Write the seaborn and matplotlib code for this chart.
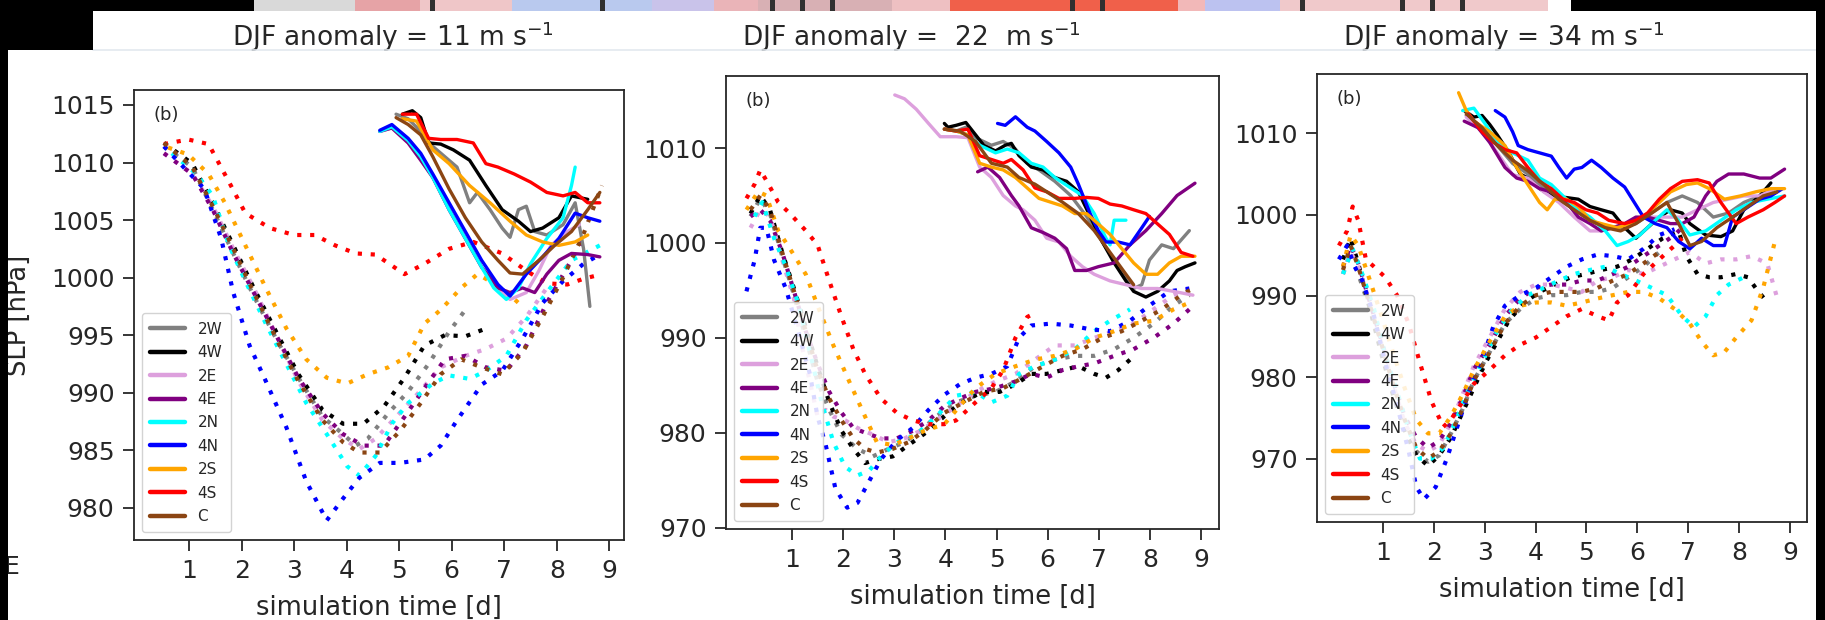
import matplotlib
matplotlib.use("Agg")
import matplotlib.pyplot as plt
from matplotlib.patches import Rectangle
from matplotlib.lines import Line2D
import pandas as pd
import seaborn as sns

# ---------------- data ----------------
experiments = ["2W", "4W", "2E", "4E", "2N", "4N", "2S", "4S", "C"]
exp_colors = ["gray", "black", "plum", "purple", "cyan", "blue", "orange", "red", "saddlebrown"]
panel_titles = ["DJF anomaly = 11 m s$^{-1}$",
                "DJF anomaly =  22  m s$^{-1}$",
                "DJF anomaly = 34 m s$^{-1}$"]
panel_tag = "(b)"
x_ticks = [1, 2, 3, 4, 5, 6, 7, 8, 9]
y_ticks_p1 = [980, 985, 990, 995, 1000, 1005, 1010, 1015]
y_ticks_p2 = [970, 980, 990, 1000, 1010]
y_ticks_p3 = [970, 980, 990, 1000, 1010]
x_label = "simulation time [d]"
y_label = "SLP [hPa]"

# panel 1 (11 m/s): dotted = first cyclone, solid = second cyclone; (day, hPa)
p1_dotted = {
    "2W": [(0.52,1011.4),(1.06,1009.6),(1.45,1005.9),(1.84,1002.1),(2.23,998.4),(2.69,994.4),(3.08,991.3),(3.54,987.9),(3.93,986.4),(4.17,985.4),(4.40,986.0),(4.79,988.2),(5.17,990.1),(5.56,992.5),(5.95,995.3),(6.26,997.2)],
    "4W": [(0.52,1011.7),(1.06,1009.9),(1.45,1006.5),(1.84,1002.8),(2.23,999.1),(2.69,995.0),(3.08,991.6),(3.54,988.5),(3.93,987.3),(4.32,987.3),(4.71,988.8),(5.10,991.3),(5.48,994.1),(5.87,995.0),(6.26,994.9),(6.61,995.5)],
    "2E": [(0.52,1010.8),(1.06,1009.0),(1.45,1006.2),(1.84,1002.5),(2.23,999.1),(2.69,994.7),(3.08,991.0),(3.54,987.6),(3.93,986.0),(4.24,985.1),(4.55,986.0),(4.94,987.9),(5.33,989.8),(5.79,992.2),(6.26,993.2),(6.65,993.8),(7.04,994.7),(7.42,996.6),(7.81,999.1)],
    "4E": [(0.52,1010.8),(1.06,1009.0),(1.45,1005.9),(1.84,1002.1),(2.23,998.7),(2.69,994.7),(3.08,991.3),(3.54,988.2),(3.93,986.4),(4.32,985.4),(4.71,985.4),(5.10,987.9),(5.48,990.4),(5.87,992.9),(6.26,993.2),(6.65,992.2),(7.04,991.9),(7.42,994.1),(7.81,997.8),(8.20,1000.9),(8.51,1003.4)],
    "2N": [(0.67,1010.8),(1.14,1009.0),(1.45,1007.1),(1.76,1002.8),(2.07,999.7),(2.46,996.0),(2.85,992.5),(3.23,989.1),(3.62,986.4),(4.01,983.6),(4.24,982.8),(4.55,984.5),(4.86,987.3),(5.17,989.1),(5.64,990.8),(5.95,991.5),(6.34,991.2),(6.65,991.9),(7.04,993.2),(7.42,996.3),(7.81,998.7),(8.28,1001.5),(8.82,1002.8)],
    "4N": [(0.52,1011.4),(0.83,1009.9),(1.29,1007.7),(1.61,1003.4),(1.84,998.7),(2.15,994.1),(2.46,991.0),(2.85,987.0),(3.23,982.3),(3.62,978.9),(3.93,980.8),(4.24,982.6),(4.63,983.9),(5.02,983.9),(5.48,984.2),(5.79,985.4),(6.10,987.6),(6.57,990.7),(6.96,991.9),(7.35,994.7),(7.73,997.8),(8.12,999.7),(8.51,1001.2),(8.82,1002.0)],
    "2S": [(0.60,1011.3),(0.98,1010.7),(1.37,1009.0),(1.68,1006.5),(2.07,1002.8),(2.46,999.1),(2.85,995.6),(3.23,992.9),(3.62,991.3),(4.01,990.8),(4.40,991.6),(4.79,992.2),(5.17,993.2),(5.48,996.0),(5.79,997.2),(6.18,999.1),(6.49,1000.3),(6.96,999.1),(7.27,997.8)],
    "4S": [(0.52,1011.6),(0.98,1012.0),(1.37,1011.6),(1.76,1008.3),(2.07,1005.6),(2.54,1004.3),(3.00,1003.7),(3.39,1003.7),(3.78,1002.8),(4.17,1002.1),(4.55,1002.0),(5.10,1000.3),(5.48,1001.2),(5.95,1002.5),(6.41,1003.1),(6.96,1002.1),(7.42,1000.6),(7.81,999.5),(8.20,999.4),(8.51,999.9),(8.86,1000.3)],
    "C":  [(0.52,1011.7),(1.06,1009.6),(1.45,1006.2),(1.84,1002.5),(2.23,998.7),(2.69,994.4),(3.08,991.0),(3.54,987.6),(3.93,985.7),(4.24,984.8),(4.63,984.8),(5.02,986.7),(5.41,989.1),(5.79,991.6),(6.18,992.9),(6.57,992.2),(6.96,991.6),(7.35,993.5),(7.73,996.6),(8.12,1000.0),(8.51,1003.8),(8.86,1008.0)],
}
p1_solid = {
    "2W": [(4.94,1014.2),(5.17,1013.8),(5.41,1012.7),(5.64,1011.4),(5.87,1010.5),(6.10,1009.6),(6.34,1006.5),(6.49,1007.4),(6.73,1005.9),(6.96,1004.3),(7.11,1003.5),(7.27,1005.9),(7.42,1006.2),(7.58,1004.0),(7.81,1003.7),(8.12,1004.6),(8.35,1006.5),(8.51,1002.5),(8.63,997.5)],
    "4W": [(5.06,1014.2),(5.25,1014.5),(5.41,1013.9),(5.56,1011.7),(5.79,1011.6),(6.03,1011.1),(6.34,1010.2),(6.65,1008.0),(6.96,1005.9),(7.27,1004.9),(7.50,1004.0),(7.73,1004.3),(8.04,1005.2),(8.28,1007.1),(8.59,1006.8)],
    "2E": [(4.63,1012.7),(4.86,1013.0),(5.17,1011.7),(5.41,1010.2),(5.64,1008.7),(5.95,1005.9),(6.26,1003.4),(6.57,1000.9),(6.88,999.1),(7.11,998.1),(7.42,998.7),(7.66,1000.6),(7.89,1002.8),(8.20,1004.0),(8.43,1004.6)],
    "4E": [(4.63,1012.7),(4.86,1013.0),(5.17,1011.7),(5.41,1010.2),(5.64,1008.7),(5.95,1005.9),(6.26,1003.4),(6.57,1000.9),(6.88,999.1),(7.11,998.7),(7.35,999.1),(7.58,998.7),(7.81,1000.3),(8.04,1001.5),(8.28,1002.1),(8.59,1002.0),(8.82,1001.8)],
    "2N": [(4.63,1012.7),(4.86,1013.1),(5.17,1011.9),(5.41,1010.5),(5.64,1008.7),(5.95,1005.9),(6.26,1003.4),(6.57,1000.9),(6.80,999.1),(7.04,998.1),(7.27,999.1),(7.50,1001.2),(7.81,1003.4),(8.12,1005.2),(8.28,1008.0),(8.35,1009.6)],
    "4N": [(4.63,1012.8),(4.86,1013.3),(5.17,1012.1),(5.41,1010.8),(5.64,1009.0),(5.95,1006.5),(6.26,1004.0),(6.57,1001.5),(6.88,999.4),(7.11,998.4),(7.42,1000.3),(7.73,1001.8),(8.04,1003.4),(8.35,1005.6),(8.59,1005.2),(8.82,1004.9)],
    "2S": [(5.06,1013.8),(5.33,1013.6),(5.64,1011.1),(5.95,1009.9),(6.34,1008.0),(6.73,1006.5),(7.11,1004.9),(7.42,1003.7),(7.73,1003.1),(8.04,1002.8),(8.35,1003.1),(8.59,1003.7)],
    "4S": [(5.06,1014.2),(5.33,1014.2),(5.56,1012.1),(5.79,1012.0),(6.10,1012.0),(6.41,1011.7),(6.65,1009.9),(6.88,1009.6),(7.19,1009.0),(7.50,1008.3),(7.81,1007.4),(8.12,1007.1),(8.35,1007.4),(8.59,1006.5),(8.82,1006.5)],
    "C":  [(4.94,1013.9),(5.17,1013.3),(5.41,1012.4),(5.64,1010.5),(5.95,1007.7),(6.26,1005.2),(6.57,1003.1),(6.88,1001.5),(7.11,1000.4),(7.35,1000.3),(7.66,1001.5),(7.96,1002.8),(8.28,1004.0),(8.59,1005.9),(8.82,1007.4)],
}

# panel 2 (22 m/s)
p2_dotted = {
    "2W": [(0.19,1002.8),(0.38,1004.7),(0.57,1003.1),(0.81,998.6),(1.04,994.5),(1.27,990.0),(1.50,985.4),(1.73,982.4),(1.97,979.8),(2.28,978.3),(2.58,977.5),(2.89,978.3),(3.20,979.0),(3.51,980.2),(3.82,981.7),(4.21,983.2),(4.59,983.9),(4.98,984.3),(5.37,985.4),(5.75,987.0),(6.14,987.7),(6.53,988.1),(6.91,988.1),(7.30,988.8),(7.68,990.0),(8.07,991.5),(8.46,993.4),(8.77,994.5)],
    "4W": [(0.19,1003.1),(0.38,1005.0),(0.57,1003.5),(0.81,999.0),(1.04,995.2),(1.27,991.1),(1.50,987.0),(1.73,983.2),(1.97,980.2),(2.20,978.3),(2.43,976.8),(2.66,977.2),(2.97,977.5),(3.28,978.7),(3.67,980.2),(4.05,982.1),(4.44,983.6),(4.75,984.3),(5.06,984.3),(5.37,985.1),(5.68,986.2),(5.98,986.2),(6.29,986.6),(6.60,987.0),(6.91,986.2),(7.14,985.8),(7.38,986.6),(7.61,987.7)],
    "2E": [(0.19,1001.6),(0.38,1003.5),(0.57,1002.8),(0.81,998.2),(1.04,994.1),(1.19,989.2),(1.35,985.4),(1.50,981.7),(1.66,982.4),(1.81,981.7),(2.04,981.3),(2.28,980.5),(2.58,979.8),(2.89,979.0),(3.20,979.4),(3.51,980.2),(3.82,981.3),(4.21,982.8),(4.59,984.3),(4.98,985.4),(5.37,986.2),(5.75,987.7),(6.14,989.2),(6.53,989.2),(6.91,990.0),(7.30,990.7),(7.68,991.5),(8.07,993.0),(8.46,994.5),(8.77,995.2)],
    "4E": [(0.19,1002.8),(0.38,1003.5),(0.57,1002.4),(0.81,999.0),(1.04,994.9),(1.27,990.7),(1.50,987.3),(1.73,984.3),(1.97,982.1),(2.20,980.5),(2.43,980.0),(2.74,979.4),(3.05,979.4),(3.36,980.2),(3.67,981.3),(3.98,982.8),(4.28,983.6),(4.59,984.3),(4.98,984.7),(5.37,985.4),(5.68,986.2),(5.98,985.8),(6.29,986.6),(6.60,987.0),(6.91,987.3),(7.30,988.1),(7.68,988.8),(8.07,990.0),(8.46,991.5),(8.77,993.0)],
    "2N": [(0.27,1002.8),(0.42,1004.3),(0.65,1000.5),(0.88,997.5),(1.12,993.7),(1.35,988.5),(1.58,983.2),(1.81,979.0),(2.04,976.4),(2.28,975.5),(2.51,976.0),(2.74,977.5),(3.05,979.0),(3.43,979.8),(3.82,981.7),(4.21,983.9),(4.59,984.3),(4.90,983.2),(5.21,983.9),(5.44,986.2),(5.75,987.0),(6.14,987.7),(6.53,988.8),(6.91,990.7),(7.22,991.8),(7.61,993.0)],
    "4N": [(0.11,994.9),(0.27,998.2),(0.38,1001.6),(0.50,1001.6),(0.65,998.2),(0.88,995.2),(1.12,990.7),(1.35,986.2),(1.50,981.7),(1.66,978.7),(1.85,974.1),(2.08,972.1),(2.28,972.6),(2.51,974.9),(2.74,977.2),(3.05,979.2),(3.36,980.5),(3.67,982.4),(3.98,984.0),(4.28,985.1),(4.59,985.8),(4.90,986.2),(5.21,987.0),(5.44,990.0),(5.68,991.3),(6.06,991.5),(6.45,991.3),(6.83,990.9),(7.22,990.7),(7.61,991.8),(7.99,993.4),(8.38,994.9),(8.77,995.2)],
    "2S": [(0.11,1003.5),(0.34,1005.4),(0.50,1005.0),(0.73,1001.3),(0.96,999.4),(1.27,996.7),(1.50,993.4),(1.81,989.2),(2.12,985.4),(2.43,981.7),(2.66,979.0),(2.97,978.7),(3.28,979.4),(3.59,980.2),(3.98,980.9),(4.28,982.8),(4.59,984.7),(4.98,986.2),(5.37,987.0),(5.75,987.7),(6.14,988.1),(6.53,988.8),(6.91,990.0),(7.30,990.7),(7.68,991.5),(8.07,991.8),(8.46,993.0),(8.77,993.7)],
    "4S": [(0.11,1004.7),(0.27,1006.2),(0.38,1007.7),(0.54,1006.2),(0.73,1004.3),(0.96,1003.1),(1.27,1001.3),(1.50,999.8),(1.73,996.0),(1.97,992.2),(2.20,988.8),(2.43,986.2),(2.74,983.6),(3.05,982.1),(3.36,981.3),(3.67,980.9),(3.98,980.9),(4.21,981.3),(4.59,983.2),(4.90,984.7),(5.13,986.6),(5.37,990.0),(5.60,992.2),(5.75,992.6)],
    "C":  [(0.19,1003.5),(0.38,1005.0),(0.57,1003.5),(0.81,999.0),(1.04,994.9),(1.27,990.7),(1.50,986.6),(1.73,983.6),(1.97,981.3),(2.20,979.4),(2.43,978.3),(2.66,977.9),(2.97,978.3),(3.28,979.0),(3.59,980.2),(3.98,982.1),(4.36,983.2),(4.75,984.3),(5.13,984.7),(5.52,985.8),(5.91,987.0),(6.29,988.1),(6.68,988.8),(7.07,990.0),(7.45,990.7),(7.84,991.8),(8.23,993.0),(8.61,994.5),(8.84,995.2)],
}
p2_solid = {
    "2W": [(3.98,1012.0),(4.21,1011.8),(4.40,1012.2),(4.59,1011.1),(4.90,1010.3),(5.13,1010.7),(5.37,1009.9),(5.60,1008.4),(5.83,1007.7),(6.14,1006.5),(6.45,1005.0),(6.76,1002.8),(7.07,1000.1),(7.38,997.5),(7.68,995.2),(7.84,995.6),(7.99,998.2),(8.23,999.8),(8.46,999.4),(8.77,1001.3)],
    "4W": [(3.98,1012.6),(4.05,1012.2),(4.21,1012.4),(4.40,1012.7),(4.59,1011.4),(4.75,1010.3),(4.98,1009.7),(5.17,1010.3),(5.29,1010.5),(5.44,1009.2),(5.68,1008.0),(5.91,1007.7),(6.14,1006.9),(6.37,1006.5),(6.60,1005.4),(6.83,1002.8),(7.07,1000.1),(7.30,997.9),(7.53,996.0),(7.68,994.9),(7.92,994.3),(8.15,994.9),(8.38,996.0),(8.53,997.1),(8.69,997.5),(8.88,997.9)],
    "2E": [(3.01,1015.6),(3.20,1015.2),(3.43,1014.1),(3.67,1012.6),(3.90,1011.2),(4.21,1011.2),(4.44,1011.1),(4.67,1008.0),(4.90,1006.9),(5.13,1005.0),(5.37,1003.9),(5.52,1003.5),(5.75,1002.4),(5.98,1000.5),(6.22,1000.1),(6.45,998.6),(6.68,997.5),(6.91,996.7),(7.22,996.0),(7.53,995.6),(7.84,995.2),(8.15,995.2),(8.46,994.9),(8.84,994.5)],
    "4E": [(4.63,1007.5),(4.83,1008.0),(5.06,1006.9),(5.29,1005.0),(5.44,1003.9),(5.68,1001.6),(5.91,1001.1),(6.14,1000.5),(6.37,999.4),(6.53,997.1),(6.76,997.1),(6.99,997.5),(7.30,997.9),(7.61,999.8),(7.92,1001.3),(8.23,1003.1),(8.53,1005.0),(8.88,1006.3)],
    "2N": [(3.98,1012.0),(4.21,1011.8),(4.44,1011.4),(4.67,1010.3),(4.98,1009.5),(5.21,1009.9),(5.44,1009.5),(5.68,1008.4),(5.91,1008.0),(6.14,1006.9),(6.45,1005.8),(6.68,1005.0),(6.91,1003.1),(7.14,1000.5),(7.22,999.8),(7.30,1002.4),(7.53,1002.4)],
    "4N": [(5.02,1012.6),(5.17,1012.4),(5.37,1013.3),(5.60,1012.2),(5.75,1011.8),(5.98,1010.7),(6.22,1009.5),(6.45,1008.0),(6.60,1006.2),(6.83,1003.1),(6.99,1001.3),(7.14,1000.1),(7.38,1000.1),(7.61,999.8),(7.84,1001.6),(7.99,1002.8)],
    "2S": [(3.98,1012.0),(4.21,1011.8),(4.44,1011.4),(4.67,1008.4),(4.90,1008.0),(5.13,1007.7),(5.37,1006.9),(5.60,1005.8),(5.83,1004.7),(6.06,1004.3),(6.29,1003.9),(6.53,1003.1),(6.76,1003.1),(6.99,1002.0),(7.22,1000.9),(7.45,999.4),(7.68,997.9),(7.92,996.7),(8.15,996.7),(8.38,997.9),(8.61,998.6),(8.88,998.6)],
    "4S": [(3.98,1012.0),(4.21,1011.8),(4.44,1012.0),(4.67,1009.2),(4.90,1008.8),(5.13,1008.4),(5.29,1008.8),(5.52,1007.7),(5.75,1005.8),(5.98,1005.4),(6.22,1004.7),(6.53,1004.7),(6.76,1004.8),(6.99,1004.7),(7.22,1004.1),(7.45,1003.9),(7.68,1003.5),(7.92,1003.1),(8.15,1002.0),(8.38,1000.9),(8.61,999.0),(8.84,998.6)],
    "C":  [(3.98,1012.0),(4.28,1011.8),(4.59,1010.7),(4.90,1008.4),(5.21,1008.0),(5.44,1006.9),(5.75,1006.2),(5.98,1005.4),(6.29,1004.3),(6.60,1003.1),(6.91,1001.3),(7.22,999.0),(7.53,996.7),(7.68,995.6)],
}

# panel 3 (34 m/s)
p3_dotted = {
    "2W": [(0.22,992.7),(0.37,995.4),(0.52,992.7),(0.75,988.4),(0.98,983.1),(1.20,978.3),(1.43,973.9),(1.66,970.9),(1.89,969.6),(2.11,970.4),(2.34,973.1),(2.57,976.1),(2.79,979.6),(3.10,983.1),(3.40,986.6),(3.70,988.4),(4.01,989.7),(4.31,990.1),(4.61,990.1),(4.91,990.5),(5.22,990.5),(5.52,991.0),(5.82,992.3),(6.12,993.6),(6.43,995.4)],
    "4W": [(0.22,994.5),(0.37,997.1),(0.52,994.0),(0.75,988.4),(0.98,982.7),(1.20,977.9),(1.43,973.5),(1.66,970.4),(1.89,969.1),(2.11,970.4),(2.34,972.6),(2.57,975.7),(2.79,978.7),(3.02,981.8),(3.25,984.4),(3.48,987.0),(3.78,989.2),(4.08,990.5),(4.38,991.4),(4.69,992.3),(4.99,992.7),(5.29,993.2),(5.60,993.6),(5.90,994.5),(6.20,995.8),(6.50,997.1),(6.81,998.0),(6.96,994.9),(7.18,992.7),(7.41,992.3),(7.64,992.3),(7.94,992.7),(8.17,992.3),(8.32,991.0),(8.55,989.2)],
    "2E": [(0.22,992.7),(0.37,995.4),(0.52,993.6),(0.75,989.2),(0.98,984.0),(1.20,979.2),(1.43,974.4),(1.66,971.7),(1.89,970.9),(2.11,971.7),(2.34,974.4),(2.57,977.9),(2.79,981.4),(3.10,984.9),(3.40,988.4),(3.70,990.5),(4.01,991.4),(4.31,991.4),(4.61,991.0),(4.91,990.5),(5.22,991.9),(5.52,992.3),(5.82,993.2),(6.12,992.7),(6.43,993.6),(6.73,994.5),(7.03,995.4),(7.34,994.0),(7.64,994.5),(7.94,994.5),(8.24,994.9),(8.55,994.0),(8.77,989.2)],
    "4E": [(0.22,993.6),(0.37,996.2),(0.52,994.0),(0.75,989.2),(0.98,984.4),(1.20,979.6),(1.43,975.2),(1.66,972.6),(1.89,971.3),(2.11,972.2),(2.34,974.4),(2.57,977.5),(2.79,981.0),(3.10,984.0),(3.40,987.5),(3.70,989.7),(4.01,991.0),(4.31,991.4),(4.61,991.4),(4.91,991.9),(5.22,991.9),(5.52,992.7),(5.82,993.6),(6.12,994.9),(6.43,996.2),(6.73,997.5),(6.96,998.9)],
    "2N": [(0.22,992.7),(0.41,995.8),(0.60,992.7),(0.83,988.4),(1.05,982.7),(1.28,978.3),(1.51,973.5),(1.73,970.0),(1.96,970.0),(2.19,971.3),(2.42,974.4),(2.64,977.9),(2.95,981.8),(3.25,985.7),(3.55,988.4),(3.85,990.1),(4.16,991.0),(4.46,991.9),(4.76,992.7),(5.07,993.2),(5.37,993.6),(5.67,992.7),(5.97,991.9),(6.28,991.0),(6.58,990.1),(6.88,987.5),(7.11,986.2),(7.34,987.5),(7.56,990.1),(7.79,991.4),(8.09,992.3)],
    "4N": [(0.14,994.5),(0.30,996.2),(0.45,993.6),(0.60,991.9),(0.83,987.5),(1.05,981.8),(1.28,976.6),(1.51,970.9),(1.66,966.5),(1.81,965.0),(2.04,966.5),(2.26,970.0),(2.49,974.4),(2.72,978.7),(2.95,982.2),(3.17,986.2),(3.40,988.8),(3.70,990.1),(4.01,991.0),(4.31,992.3),(4.61,993.6),(4.91,994.5),(5.22,995.1),(5.52,994.9),(5.82,994.5),(6.12,995.8),(6.43,997.5),(6.73,998.2)],
    "2S": [(0.22,993.6),(0.37,997.5),(0.52,996.2),(0.75,991.9),(0.98,987.5),(1.20,983.1),(1.43,978.7),(1.66,974.8),(1.89,973.1),(2.11,973.1),(2.34,975.2),(2.57,977.9),(2.79,980.9),(3.10,984.4),(3.40,987.5),(3.70,988.8),(4.01,989.2),(4.31,989.2),(4.61,988.8),(4.91,989.2),(5.22,989.7),(5.52,990.1),(5.82,990.5),(6.12,990.5),(6.43,989.7),(6.73,988.4),(7.03,986.6),(7.26,984.4),(7.49,982.7),(7.71,983.1),(7.94,984.9),(8.24,987.0),(8.47,991.0),(8.70,996.7)],
    "4S": [(0.14,996.2),(0.30,998.0),(0.41,1001.0),(0.52,999.3),(0.67,994.5),(0.83,993.6),(1.05,992.3),(1.28,990.1),(1.51,986.6),(1.73,981.8),(1.96,977.0),(2.19,973.9),(2.34,974.8),(2.57,977.0),(2.79,979.2),(3.10,980.9),(3.40,982.7),(3.70,984.0),(4.01,984.9),(4.31,986.2),(4.61,987.5),(4.91,988.4),(5.22,987.5),(5.44,987.0),(5.60,989.2),(5.82,990.1),(6.12,992.7),(6.43,994.5),(6.73,996.2),(6.88,997.1)],
    "C":  [(0.22,993.2),(0.37,996.2),(0.52,993.6),(0.75,988.8),(0.98,984.0),(1.20,979.2),(1.43,974.8),(1.66,971.3),(1.89,970.0),(2.11,970.9),(2.34,973.1),(2.57,976.1),(2.79,979.6),(3.10,983.1),(3.40,986.6),(3.70,988.8),(4.01,990.1),(4.31,990.5),(4.61,990.5),(4.91,990.5),(5.22,991.0),(5.52,991.9),(5.82,992.7),(6.12,994.0),(6.43,995.4)],
}
p3_solid = {
    "2W": [(2.64,1012.2),(2.95,1010.7),(3.25,1008.5),(3.55,1006.3),(3.85,1005.0),(4.16,1003.2),(4.46,1001.9),(4.76,1000.6),(5.07,999.3),(5.37,998.4),(5.67,998.4),(5.97,998.9),(6.28,1000.2),(6.58,1001.5),(6.88,1002.3),(7.18,1001.5),(7.49,999.7),(7.79,1000.2),(8.09,1001.5),(8.40,1002.3),(8.70,1003.2)],
    "4W": [(2.60,1012.8),(2.79,1012.0),(2.95,1012.2),(3.10,1011.1),(3.25,1009.8),(3.48,1007.6),(3.70,1005.0),(3.85,1004.5),(4.08,1003.2),(4.31,1002.3),(4.61,1002.1),(4.84,1001.9),(5.07,1001.0),(5.29,1000.6),(5.52,1000.2),(5.75,998.4),(5.97,997.1),(6.20,998.4),(6.43,999.7),(6.65,1000.6),(6.88,1000.2),(7.03,998.9),(7.34,997.5),(7.64,997.3),(7.87,998.0),(8.09,1000.6),(8.40,1002.3),(8.62,1003.9)],
    "2E": [(2.64,1012.0),(2.95,1010.2),(3.25,1007.6),(3.55,1004.9),(3.85,1004.5),(4.16,1002.8),(4.46,1001.5),(4.76,999.7),(5.07,998.0),(5.29,998.0),(5.52,998.4),(5.82,998.9),(6.12,999.7),(6.50,999.7),(6.88,999.7),(7.18,1000.6),(7.49,1001.5),(7.79,1001.9),(8.09,1002.3),(8.40,1002.3),(8.70,1003.2)],
    "4E": [(2.60,1011.5),(2.87,1010.7),(3.10,1008.9),(3.40,1005.8),(3.63,1004.5),(3.85,1004.1),(4.08,1003.2),(4.31,1002.8),(4.61,1001.5),(4.84,999.7),(5.07,998.9),(5.29,998.0),(5.52,998.4),(5.75,998.9),(5.97,999.7),(6.20,999.7),(6.43,999.3),(6.65,998.9),(6.88,998.9),(7.11,999.7),(7.34,1002.3),(7.56,1004.1),(7.79,1005.0),(8.09,1005.0),(8.40,1004.5),(8.62,1004.5),(8.89,1005.6)],
    "2N": [(2.57,1012.8),(2.79,1013.1),(3.02,1011.1),(3.25,1008.9),(3.55,1007.6),(3.85,1006.7),(4.08,1004.5),(4.31,1003.7),(4.54,1002.3),(4.76,1001.0),(5.07,999.7),(5.37,998.0),(5.60,996.2),(5.82,996.7),(6.05,997.5),(6.28,998.9),(6.58,1000.6),(6.81,999.3),(7.03,997.5),(7.34,998.0),(7.64,999.3),(7.94,1000.6),(8.24,1001.5),(8.55,1001.9),(8.89,1002.3)],
    "4N": [(3.21,1012.8),(3.40,1012.0),(3.55,1010.2),(3.66,1008.5),(3.85,1008.0),(4.08,1007.6),(4.31,1007.2),(4.46,1005.8),(4.61,1004.5),(4.76,1005.6),(4.91,1005.8),(5.10,1006.7),(5.29,1005.8),(5.52,1004.5),(5.75,1003.4),(5.90,1001.9),(6.12,999.7),(6.35,998.9),(6.58,998.4),(6.81,996.7),(7.03,995.8),(7.26,997.1),(7.49,996.2),(7.71,996.2),(7.87,999.7),(8.09,1000.6),(8.40,1001.9),(8.62,1002.3),(8.85,1003.2)],
    "2S": [(2.49,1015.0),(2.64,1012.8),(2.79,1011.5),(3.10,1010.2),(3.40,1008.5),(3.63,1005.8),(3.85,1003.7),(4.08,1001.5),(4.23,1000.6),(4.38,1001.9),(4.61,1001.9),(4.84,1001.0),(5.07,999.3),(5.29,998.9),(5.60,998.4),(5.90,998.9),(6.12,999.7),(6.43,1001.5),(6.65,1002.8),(6.96,1003.7),(7.18,1003.9),(7.41,1003.2),(7.71,1001.9),(8.02,1002.3),(8.32,1002.8),(8.62,1003.2),(8.89,1003.2)],
    "4S": [(2.68,1012.4),(2.95,1010.2),(3.17,1008.9),(3.40,1008.0),(3.63,1007.6),(3.85,1005.8),(4.08,1004.1),(4.31,1003.2),(4.54,1001.9),(4.76,1001.5),(4.99,1000.6),(5.22,1000.2),(5.44,999.3),(5.75,998.9),(5.97,999.3),(6.20,1000.2),(6.43,1001.9),(6.65,1003.2),(6.88,1004.1),(7.18,1004.3),(7.41,1003.9),(7.64,1001.5),(7.94,998.9),(8.17,999.7),(8.47,1000.6),(8.70,1001.5),(8.89,1002.3)],
    "C":  [(2.64,1012.4),(2.95,1010.7),(3.25,1008.5),(3.55,1006.7),(3.85,1005.4),(4.16,1003.7),(4.46,1001.9),(4.76,1000.6),(5.07,999.3),(5.37,998.4),(5.67,998.0),(5.97,998.9),(6.28,1000.2),(6.58,1001.5),(6.81,998.9),(7.03,996.2),(7.26,996.7),(7.56,998.4),(7.87,999.7),(8.17,1001.0),(8.47,1002.3),(8.74,1002.8)],
}

# ---------------- layout / style ----------------
W, H = 1825, 620
sns.set_theme(style="ticks")
plt.rcParams["font.family"] = ["DejaVu Sans"]
plt.rcParams["mathtext.default"] = "regular"

fig = plt.figure(figsize=(W / 100, H / 100), dpi=100)
fig.patch.set_facecolor("white")

# axes boxes in pixels: left, top, right, bottom
boxes = [(134, 90, 624, 540), (726, 76, 1219, 529), (1317, 74, 1807, 522)]
xlims = [(-0.05, 9.28), (-0.29, 9.35), (-0.29, 9.33)]
ylims = [(977.2, 1016.3), (969.85, 1017.6), (962.2, 1017.3)]
yticks_all = [y_ticks_p1, y_ticks_p2, y_ticks_p3]
dotted_all = [p1_dotted, p2_dotted, p3_dotted]
solid_all = [p1_solid, p2_solid, p3_solid]
title_x = [393, 911, 1504]

TICK_FS = 18
spine_col = "#262626"

for i in range(3):
    l, t, r, b = boxes[i]
    ax = fig.add_axes([l / W, 1 - b / H, (r - l) / W, (b - t) / H])
    ax.set_facecolor("white")
    for name, col in zip(experiments, exp_colors):
        pts = dotted_all[i][name]
        df = pd.DataFrame(pts, columns=["day", "slp"])
        sns.lineplot(data=df, x="day", y="slp", ax=ax, color=col, lw=3.0,
                     sort=False, estimator=None, legend=False)
        ax.lines[-1].set_linestyle((0, (1, 2.1)))
    for name, col in zip(experiments, exp_colors):
        pts = solid_all[i][name]
        df = pd.DataFrame(pts, columns=["day", "slp"])
        sns.lineplot(data=df, x="day", y="slp", ax=ax, color=col, lw=2.4,
                     sort=False, estimator=None, legend=False)
    ax.set_xlim(*xlims[i])
    ax.set_ylim(*ylims[i])
    ax.set_xticks(x_ticks)
    ax.set_yticks(yticks_all[i])
    ax.tick_params(labelsize=TICK_FS, length=8, width=1.3, pad=6, colors=spine_col)
    for s in ax.spines.values():
        s.set_linewidth(1.3)
        s.set_color(spine_col)
        s.set_visible(True)
    ax.set_xlabel(x_label, fontsize=18.5, color=spine_col)
    ax.xaxis.set_label_coords(0.5, -0.122)
    if i == 0:
        ax.set_ylabel(y_label, fontsize=18.5, color=spine_col)
        ax.yaxis.set_label_coords(-0.208, 0.5)
    else:
        ax.set_ylabel("")
    ax.text(0.04, 0.945, panel_tag, transform=ax.transAxes, fontsize=13,
            ha="left", va="center", color=spine_col)
    handles = [Line2D([0], [0], color=c, lw=3.2) for c in exp_colors]
    leg = ax.legend(handles, experiments, loc="lower left", fontsize=11,
                    labelspacing=0.55, handlelength=2.3, handletextpad=0.8,
                    borderpad=0.55, borderaxespad=0.5, frameon=True,
                    fancybox=True, framealpha=0.85)
    leg.get_frame().set_edgecolor("#cccccc")
    for txt in leg.get_texts():
        txt.set_color(spine_col)

for i in range(3):
    fig.text(title_x[i] / W, 1 - 37 / H, panel_titles[i], ha="center", va="center",
             fontsize=19, color=spine_col)

# stray glyph of a cut neighbouring panel at the left edge
fig.text(4 / W, 1 - 567 / H, "E", fontsize=18, ha="left", va="center", color=spine_col)


# ---------------- collage border decorations ----------------
def frect(x0, y0, x1, y1, color, z=10):
    fig.add_artist(Rectangle((x0 / W, 1 - y1 / H), (x1 - x0) / W, (y1 - y0) / H,
                             transform=fig.transFigure, facecolor=color,
                             edgecolor="none", zorder=z))

frect(0, 0, 8, H, "black")
frect(1816, 0, W, H, "black")
frect(0, 0, 254, 11, "black")
frect(0, 0, 93, 50, "black")
frect(1571, 0, W, 11, "black")
frect(254, 0, 355, 11, "#d9d9d9")
map_strip = [(355, 420, "#e6a3a6"), (420, 512, "#efc6c8"), (512, 652, "#b9c9ee"),
             (652, 714, "#c9c3ea"), (714, 758, "#eab4b8"), (758, 892, "#d8b0b4"),
             (892, 950, "#eec0c2"), (950, 1178, "#f0604a"), (1178, 1205, "#f2b8b8"),
             (1205, 1280, "#bcc2f0"), (1280, 1548, "#f0c9cb")]
for x0, x1, c in map_strip:
    frect(x0, 0, x1, 11, c)
for x0 in [430, 600, 770, 800, 830, 1070, 1100, 1300, 1400, 1430, 1460]:
    frect(x0, 0, x0 + 5, 11, "#303030")
fig.add_artist(Line2D([93 / W, 1816 / W], [1 - 50 / H, 1 - 50 / H],
                      transform=fig.transFigure, color="#e3e9ef", lw=1.2, zorder=9))

fig.savefig("out.png", dpi=100, facecolor="white")
